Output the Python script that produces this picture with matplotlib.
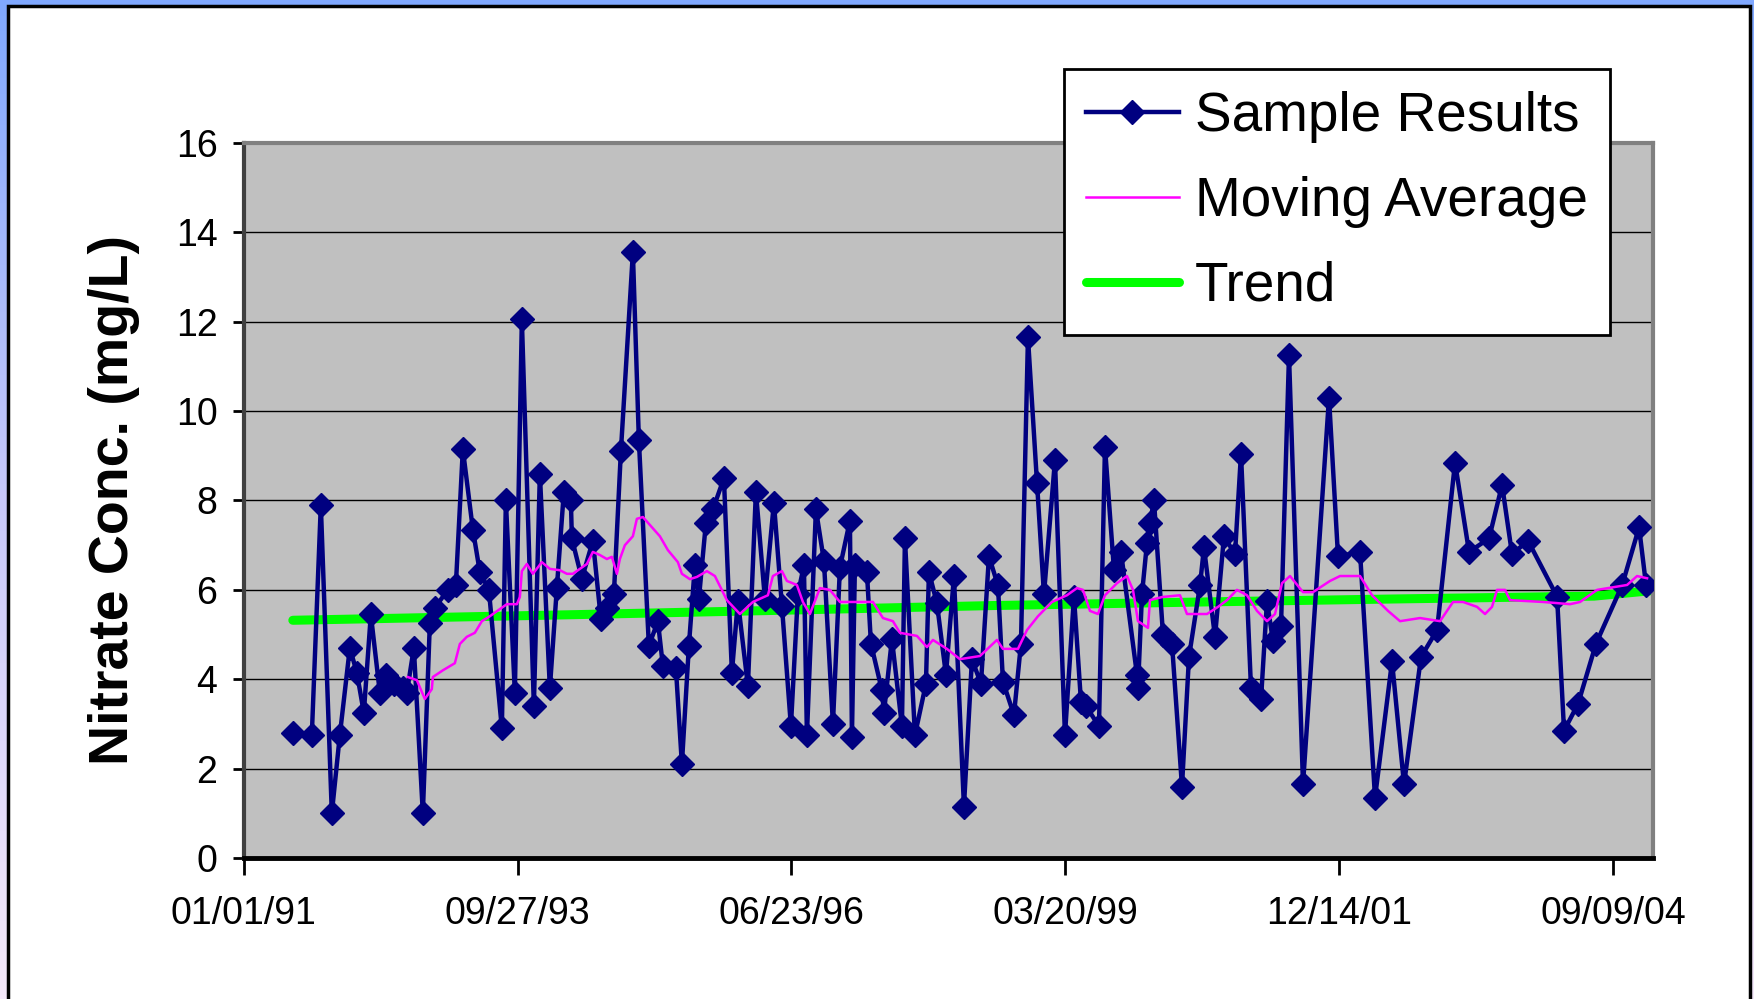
import numpy as np
import pandas as pd
import matplotlib
matplotlib.use('Agg')
import matplotlib.pyplot as plt
import matplotlib.dates as mdates
from matplotlib.colors import LinearSegmentedColormap
from matplotlib.patches import Rectangle
from matplotlib.lines import Line2D

plt.rcParams['font.family'] = ['Liberation Sans', 'DejaVu Sans']

# sample dates as decimal years
sample_years = [1991.49, 1991.68, 1991.77, 1991.88, 1991.96, 1992.06, 1992.13, 1992.20, 1992.27, 1992.36,
                1992.42, 1992.50, 1992.59, 1992.63, 1992.70, 1992.79, 1992.86, 1992.91, 1993.04, 1993.12,
                1993.19, 1993.29, 1993.36, 1993.45, 1993.58, 1993.62, 1993.71, 1993.78, 1993.90, 1993.96,
                1994.06, 1994.13, 1994.20, 1994.27, 1994.28, 1994.38, 1994.49, 1994.57, 1994.63, 1994.70,
                1994.77, 1994.89, 1994.95, 1995.05, 1995.14, 1995.19, 1995.32, 1995.38, 1995.45, 1995.51,
                1995.55, 1995.62, 1995.69, 1995.80, 1995.88, 1995.94, 1996.04, 1996.12, 1996.21, 1996.30,
                1996.38, 1996.47, 1996.54, 1996.60, 1996.63, 1996.72, 1996.80, 1996.89, 1996.96, 1997.06,
                1997.08, 1997.11, 1997.23, 1997.27, 1997.38, 1997.40, 1997.48, 1997.58, 1997.61, 1997.71,
                1997.82, 1997.85, 1997.93, 1998.02, 1998.10, 1998.20, 1998.28, 1998.37, 1998.45, 1998.54,
                1998.59, 1998.70, 1998.77, 1998.84, 1998.93, 1999.00, 1999.11, 1999.21, 1999.30, 1999.37,
                1999.42, 1999.55, 1999.61, 1999.70, 1999.77, 1999.93, 1999.94, 1999.98, 2000.03, 2000.06,
                2000.10, 2000.19, 2000.28, 2000.38, 2000.45, 2000.56, 2000.60, 2000.71, 2000.80, 2000.91,
                2000.97, 2001.07, 2001.17, 2001.23, 2001.29, 2001.37, 2001.45, 2001.59, 2001.85, 2001.94,
                2002.16, 2002.31, 2002.48, 2002.60, 2002.77, 2002.93, 2003.11, 2003.25, 2003.45, 2003.58,
                2003.68, 2003.84, 2004.13, 2004.20, 2004.34, 2004.52, 2004.78, 2004.95, 2005.02]
sample_vals = [2.8, 2.75, 7.9, 1.0, 2.75, 4.7, 4.15, 3.25, 5.45, 3.7,
               4.1, 3.9, 3.8, 3.7, 4.7, 1.0, 5.25, 5.6, 6.0, 6.1,
               9.15, 7.35, 6.4, 6.0, 2.9, 8.0, 3.7, 12.05, 3.4, 8.6,
               3.8, 6.05, 8.2, 8.0, 7.15, 6.25, 7.1, 5.35, 5.6, 5.9,
               9.1, 13.55, 9.35, 4.75, 5.3, 4.3, 4.25, 2.1, 4.75, 6.55,
               5.8, 7.5, 7.8, 8.5, 4.15, 5.75, 3.85, 8.2, 5.8, 7.95,
               5.65, 2.95, 5.9, 6.55, 2.75, 7.8, 6.65, 3.0, 6.5, 7.55,
               2.7, 6.55, 6.4, 4.8, 3.75, 3.25, 4.9, 2.95, 7.15, 2.75,
               3.9, 6.4, 5.7, 4.1, 6.3, 1.15, 4.45, 3.9, 6.75, 6.1,
               3.95, 3.2, 4.8, 11.65, 8.4, 5.9, 8.9, 2.75, 5.85, 3.5,
               3.4, 2.95, 9.2, 6.45, 6.85, 4.1, 3.8, 5.9, 7.05, 7.5,
               8.0, 5.0, 4.8, 1.6, 4.5, 6.1, 6.95, 4.95, 7.2, 6.8,
               9.05, 3.8, 3.55, 5.75, 4.85, 5.2, 11.25, 1.65, 10.3, 6.75,
               6.85, 1.35, 4.4, 1.65, 4.5, 5.1, 8.85, 6.85, 7.15, 8.35,
               6.8, 7.1, 5.85, 2.85, 3.45, 4.8, 6.1, 7.4, 6.1]

ma_years = [1992.64, 1992.73, 1992.81, 1992.88, 1992.89, 1992.99, 1993.11, 1993.16, 1993.23, 1993.31,
            1993.38, 1993.46, 1993.56, 1993.63, 1993.73, 1993.76, 1993.78, 1993.83, 1993.89, 1993.98,
            1994.06, 1994.16, 1994.23, 1994.29, 1994.43, 1994.49, 1994.56, 1994.63, 1994.68, 1994.73,
            1994.76, 1994.81, 1994.89, 1994.93, 1994.99, 1995.16, 1995.24, 1995.34, 1995.38, 1995.46,
            1995.53, 1995.63, 1995.71, 1995.83, 1995.96, 1996.09, 1996.24, 1996.29, 1996.38, 1996.43,
            1996.53, 1996.59, 1996.66, 1996.76, 1996.86, 1996.96, 1997.29, 1997.39, 1997.49, 1997.56,
            1997.73, 1997.83, 1997.89, 1998.03, 1998.16, 1998.36, 1998.53, 1998.59, 1998.74, 1998.83,
            1998.94, 1999.08, 1999.23, 1999.33, 1999.39, 1999.46, 1999.54, 1999.61, 1999.73, 1999.83,
            1999.89, 1999.94, 2000.04, 2000.06, 2000.18, 2000.36, 2000.43, 2000.63, 2000.74, 2000.83,
            2000.93, 2001.03, 2001.13, 2001.23, 2001.31, 2001.38, 2001.46, 2001.59, 2001.69, 2001.86,
            2001.96, 2002.16, 2002.28, 2002.44, 2002.56, 2002.76, 2002.96, 2003.09, 2003.19, 2003.33,
            2003.41, 2003.48, 2003.53, 2003.61, 2003.66, 2003.99, 2004.26, 2004.36, 2004.53, 2004.83,
            2004.93, 2005.03]
ma_vals = [4.05, 3.98, 3.56, 3.78, 4.05, 4.2, 4.36, 4.79, 4.95, 5.04,
           5.3, 5.41, 5.57, 5.68, 5.68, 5.84, 6.42, 6.58, 6.36, 6.62,
           6.47, 6.44, 6.36, 6.36, 6.58, 6.85, 6.78, 6.69, 6.74, 6.36,
           6.69, 7.0, 7.2, 7.59, 7.63, 7.2, 6.89, 6.62, 6.36, 6.24,
           6.29, 6.42, 6.31, 5.77, 5.46, 5.73, 5.88, 6.31, 6.42, 6.2,
           6.11, 5.73, 5.46, 6.04, 6.0, 5.73, 5.73, 5.37, 5.30, 5.04,
           4.97, 4.72, 4.88, 4.68, 4.45, 4.52, 4.88, 4.68, 4.68, 5.10,
           5.41, 5.73, 5.88, 6.04, 6.0, 5.53, 5.46, 5.88, 6.15, 6.31,
           6.0, 5.30, 5.15, 5.77, 5.84, 5.88, 5.46, 5.46, 5.62, 5.77,
           6.0, 5.88, 5.53, 5.30, 5.46, 6.15, 6.31, 5.95, 5.95, 6.2,
           6.31, 6.31, 5.88, 5.53, 5.30, 5.37, 5.30, 5.73, 5.73, 5.62,
           5.46, 5.62, 6.0, 6.0, 5.77, 5.73, 5.68, 5.73, 6.0, 6.11,
           6.31, 6.26]

trend_years = [1991.49, 1992.40, 1994.40, 1996.50, 1998.50, 2000.60, 2002.60, 2004.50, 2005.06]
trend_vals = [5.32, 5.36, 5.45, 5.55, 5.65, 5.73, 5.80, 5.86, 5.98]

tick_dates = ['1991-01-01', '1993-09-27', '1996-06-23', '1999-03-20', '2001-12-14', '2004-09-09']
y_ticks = [0, 2, 4, 6, 8, 10, 12, 14, 16]


def to_dates(years):
    base = pd.Timestamp('1991-01-01')
    return base + pd.to_timedelta((np.array(years) - 1991) * 365.25, unit='D')


fig = plt.figure(figsize=(17.54, 9.99), dpi=100)

# slide background: blue->lavender gradient behind a white card
bg = fig.add_axes([0, 0, 1, 1], zorder=-10)
cmap = LinearSegmentedColormap.from_list('slide', ['#f5e9fb', '#c8c8f8', '#80a8ff'])
bg.imshow(np.linspace(0, 1, 256).reshape(-1, 1), aspect='auto', cmap=cmap,
          extent=[0, 1, 0, 1], origin='lower')
bg.axis('off')
fig.patches.append(Rectangle((8 / 1754, -0.02), 1742 / 1754, 1.02 - 6 / 999,
                             transform=fig.transFigure, facecolor='white',
                             edgecolor='black', linewidth=2.5, zorder=-5))

ax = fig.add_axes([0.139, 0.1411, 0.8034, 0.7158])
ax.set_facecolor('#c0c0c0')

ax.plot(to_dates(trend_years), trend_vals, color='#00ff00', lw=6.5,
        solid_capstyle='round', zorder=2)
ax.plot(to_dates(sample_years), sample_vals, color='#000080', lw=3.2,
        marker='D', ms=12, mec='#000080', mfc='#000080', zorder=3)
ax.plot(to_dates(ma_years), ma_vals, color='#ff00ff', lw=1.8, zorder=4)

ax.set_ylim(0, 16)
ax.set_yticks(y_ticks)
ax.set_xlim(pd.Timestamp('1991-01-01'), pd.Timestamp('1991-01-01') + pd.Timedelta(days=5146))
ax.set_xticks(pd.to_datetime(tick_dates))
ax.xaxis.set_major_formatter(mdates.DateFormatter('%m/%d/%y'))

ax.grid(axis='y', color='black', lw=1)
ax.set_axisbelow(True)
ax.tick_params(axis='both', labelsize=27, direction='out', width=2, color='black')
ax.tick_params(axis='x', length=12, pad=15)
ax.tick_params(axis='y', length=8, pad=11)

for side in ['top', 'right']:
    ax.spines[side].set_color('#808080')
    ax.spines[side].set_linewidth(3)
ax.spines['left'].set_color('#404040')
ax.spines['left'].set_linewidth(3)
ax.spines['bottom'].set_color('black')
ax.spines['bottom'].set_linewidth(3.5)

fig.text(0.065, 0.4995, 'Nitrate Conc. (mg/L)', rotation=90, ha='center', va='center',
         fontsize=40, fontweight='bold')

handles = [Line2D([], [], color='#000080', lw=3.2, marker='D', ms=12),
           Line2D([], [], color='#ff00ff', lw=1.8),
           Line2D([], [], color='#00ff00', lw=6.5, solid_capstyle='round')]
leg = fig.legend(handles, ['Sample Results', 'Moving Average', 'Trend'],
                 loc='upper right', bbox_to_anchor=(0.918, 0.931),
                 bbox_transform=fig.transFigure, fontsize=39.5, frameon=True,
                 fancybox=False, framealpha=1, edgecolor='black',
                 handlelength=1.7, handletextpad=0.3, labelspacing=0.6,
                 borderpad=0.4, borderaxespad=0)
leg.get_frame().set_linewidth(2)
leg.set_zorder(10)

fig.savefig('out.png', dpi=100)
